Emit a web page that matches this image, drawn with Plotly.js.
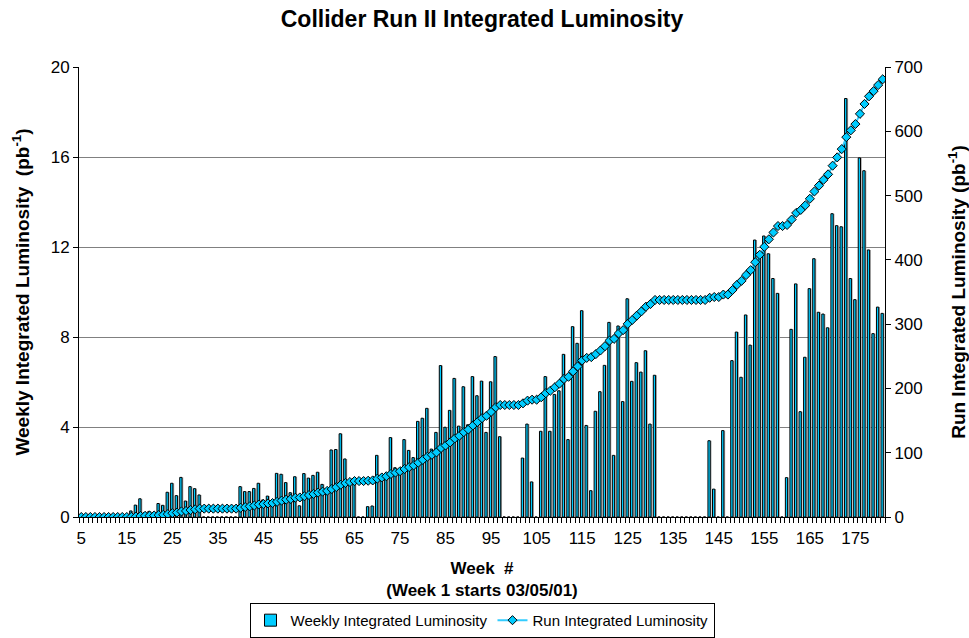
<!DOCTYPE html>
<html>
<head>
<meta charset="utf-8">
<script src="https://cdn.plot.ly/plotly-3.0.1.min.js"></script>
<style>html,body{margin:0;padding:0;background:#fff;}#chart{width:969px;height:638px;}</style>
</head>
<body>
<div id="chart"></div>
<script>
// Week numbers (categories)
const weeks = [5,6,7,8,9,10,11,12,13,14,15,16,17,18,19,20,21,22,23,24,25,26,27,28,29,30,
31,32,33,34,35,36,37,38,39,40,41,42,43,44,45,46,47,48,49,50,51,52,53,54,55,56,57,58,59,60,
61,62,63,64,65,66,67,68,69,70,71,72,73,74,75,76,77,78,79,80,81,82,83,84,85,86,87,88,89,90,
91,92,93,94,95,96,97,98,99,100,101,102,103,104,105,106,107,108,109,110,111,112,113,114,115,
116,117,118,119,120,121,122,123,124,125,126,127,128,129,130,131,132,133,134,135,136,137,138,
139,140,141,142,143,144,145,146,147,148,149,150,151,152,153,154,155,156,157,158,159,160,161,
162,163,164,165,166,167,168,169,170,171,172,173,174,175,176,177,178,179,180,181];

// Weekly integrated luminosity (pb^-1), left axis
const weeklyLum = [
0,0,0,0,0,0,0,0,0,0,0,
0.27,0.53,0.81,0.2,0.25,0.2,0.6,0.52,1.1,1.5,0.95,1.76,0.71,1.35,1.26,0.98,
0,0,0,0,0,0,0,0,
1.35,1.13,1.13,1.27,1.5,0.76,0.93,0.6,1.94,1.9,1.53,
1.08,1.79,0.5,1.93,1.73,1.85,1.99,1.45,1.2,2.98,
3.0,3.7,2.58,1.6,1.5,0,0,0.46,0.49,2.74,
1.87,1.94,3.53,2.19,2.1,3.44,2.96,2.64,4.25,4.39,
4.83,3.02,3.76,6.73,3.99,4.74,6.16,4.04,5.79,4.1,
6.24,5.39,6.04,3.76,6.01,7.13,3.57,0,0,0,
0,2.62,4.13,1.56,0,3.81,6.24,3.81,5.45,5.61,
7.23,3.44,8.46,7.72,9.17,4.07,1.17,4.7,5.57,6.74,
8.65,2.74,8.49,5.13,9.7,6.03,6.86,6.44,7.39,4.13,
6.3,0,0,0,0,0,0,0,0,0,
0,0,3.39,1.24,0,3.84,0,6.95,8.22,6.21,
8.98,7.64,12.31,11.5,12.49,11.7,10.6,9.94,0,1.75,
8.34,10.36,4.68,7.1,10.15,11.48,9.1,9.02,8.41,13.48,
12.95,12.9,18.6,10.6,9.66,15.96,15.39,11.87,8.15,9.33,9.05];

// Run integrated luminosity (pb^-1), right axis
const runLum = [
0,0,0,0,0,0,0,0,0,0,0,
0.3,0.8,1.6,1.8,2.1,2.3,2.9,3.4,4.5,6.0,6.9,8.7,9.4,10.8,12.0,13.0,
13.0,13.0,13.0,13.0,13.0,13.0,13.0,13.0,
14.3,15.5,16.6,17.9,19.4,20.1,21.1,21.7,23.6,25.5,27.0,
28.1,29.9,30.4,32.3,34.1,35.9,37.9,39.4,40.6,43.5,
46.5,50.2,52.8,54.4,55.9,55.9,55.9,56.4,56.9,59.6,
61.5,63.4,66.9,69.1,71.2,74.7,77.6,80.3,84.5,88.9,
93.7,96.8,100.5,107.3,111.2,116.0,122.1,126.2,132.0,136.1,
142.3,147.7,153.7,157.5,163.5,170.6,174.2,174.2,174.2,174.2,
174.2,176.8,181.0,182.5,182.5,186.3,192.6,196.4,201.8,207.4,
214.7,218.1,226.6,234.3,243.5,247.5,248.7,253.4,259.0,265.7,
274.4,277.1,285.6,290.7,300.4,306.5,313.3,319.8,327.1,331.3,
337.6,337.6,337.6,337.6,337.6,337.6,337.6,337.6,337.6,337.6,
337.6,337.6,341.0,342.2,342.2,346.0,346.0,353.0,361.2,367.4,
376.4,384.0,396.4,407.9,420.3,432.0,442.6,452.6,452.6,454.3,
462.7,473.0,477.7,484.8,495.0,506.4,515.5,524.6,533.0,546.5,
559.4,572.3,590.9,601.5,611.2,627.1,642.5,654.4,662.5,671.9,680.9];

// Tick labels
const xTickVals = [5,15,25,35,45,55,65,75,85,95,105,115,125,135,145,155,165,175];
const xTickText = ['5','15','25','35','45','55','65','75','85','95','105','115','125','135','145','155','165','175'];
const yLeftTicks = [0,4,8,12,16,20];
const yRightTicks = [0,100,200,300,400,500,600,700];

const FONT = 'Arial, "Liberation Sans", sans-serif';

const shadow = {
  type: 'bar', x: weeks, y: weeklyLum, yaxis: 'y',
  width: 0.5, offset: -0.1,
  marker: {color: '#A6A6A6', line: {width: 0}},
  showlegend: false, hoverinfo: 'skip'
};
const bars = {
  type: 'bar', x: weeks, y: weeklyLum, yaxis: 'y',
  name: 'Weekly Integrated Luminosity',
  width: 0.5, offset: -0.38,
  marker: {color: '#00CCFF', line: {color: '#000000', width: 1}}
};
const line = {
  type: 'scatter', mode: 'lines+markers', x: weeks, y: runLum, yaxis: 'y2',
  name: 'Run Integrated Luminosity',
  line: {color: '#33CCFF', width: 2},
  marker: {symbol: 'diamond', size: 7, color: '#00CCFF', line: {color: '#000000', width: 1}}
};

const layout = {
  width: 969, height: 638,
  margin: {l: 79, r: 84, t: 67, b: 121, autoexpand: false},
  paper_bgcolor: '#ffffff', plot_bgcolor: '#ffffff',
  font: {family: FONT, color: '#000000', size: 17},
  barmode: 'overlay',
  title: {text: '<b>Collider Run II Integrated Luminosity</b>', font: {family: FONT, size: 23, color: '#000'},
          x: 0.5, xref: 'paper', xanchor: 'center', y: 0.97, yref: 'container', yanchor: 'middle'},
  xaxis: {
    type: 'linear', range: [4.5, 181.5], automargin: false,
    tickmode: 'array', tickvals: xTickVals, ticktext: xTickText,
    ticks: '', showgrid: false, zeroline: false, ticklabelstandoff: 6,
    showline: true, linecolor: '#000', linewidth: 1,
    tickfont: {family: FONT, size: 17},
    minor: {ticks: 'outside', tick0: 4.5, dtick: 1, ticklen: 5, tickcolor: '#000', tickwidth: 1, showgrid: false},
    title: {text: '<b>Week  #<br>(Week 1 starts 03/05/01)</b>', font: {family: FONT, size: 17}, standoff: 14}
  },
  yaxis: {
    range: [0, 20], tickmode: 'array', tickvals: yLeftTicks, automargin: false,
    showgrid: true, gridcolor: '#808080', gridwidth: 1, zeroline: false,
    showline: true, linecolor: '#000', linewidth: 1,
    ticks: 'outside', ticklen: 5, tickcolor: '#000',
    tickfont: {family: FONT, size: 17},
    title: {text: '<b>Weekly Integrated Luminosity  (pb<sup>-1</sup>)</b>', font: {family: FONT, size: 19}, standoff: 16}
  },
  yaxis2: {
    range: [0, 700], tickmode: 'array', tickvals: yRightTicks, automargin: false,
    overlaying: 'y', side: 'right', showgrid: false, zeroline: false,
    showline: true, linecolor: '#000', linewidth: 1,
    ticks: 'outside', ticklen: 5, tickcolor: '#000',
    tickfont: {family: FONT, size: 17},
    title: {text: '<b>Run Integrated Luminosity (pb<sup>-1</sup>)</b>', font: {family: FONT, size: 19}, standoff: 30}
  },
  legend: {
    orientation: 'h', x: 0.5, xref: 'paper', xanchor: 'center', y: 0.055, yref: 'container', yanchor: 'top',
    bordercolor: '#000', borderwidth: 1, bgcolor: '#fff',
    font: {family: FONT, size: 15}, tracegroupgap: 0
  }
};

Plotly.newPlot('chart', [shadow, bars, line], layout, {displayModeBar: false, staticPlot: true});
</script>
</body>
</html>
